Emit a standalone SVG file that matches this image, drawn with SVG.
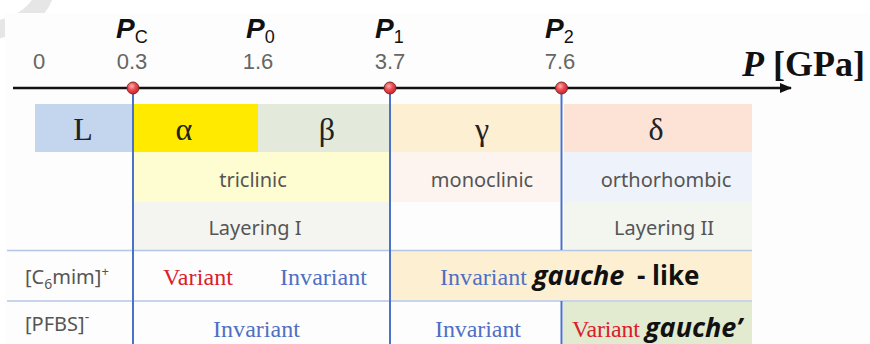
<svg xmlns="http://www.w3.org/2000/svg" width="870" height="344" viewBox="0 0 870 344">
<defs>
<radialGradient id="dot" cx="40%" cy="35%" r="65%">
<stop offset="0" stop-color="#ffb0b0"/>
<stop offset="0.5" stop-color="#ec4a4f"/>
<stop offset="1" stop-color="#c8262c"/>
</radialGradient>
<marker id="arr" viewBox="0 0 12 10" refX="11" refY="5" markerWidth="12" markerHeight="10" markerUnits="userSpaceOnUse" orient="auto">
<path d="M0,0 L12,5 L0,10 Z" fill="#111"/>
</marker>
<style>
.num{font-family:"Liberation Sans",Arial,sans-serif;font-size:22px;fill:#666;text-anchor:middle}
.pl{font-family:"Liberation Sans",Arial,sans-serif;font-size:28px;font-weight:bold;font-style:italic;fill:#111}
.sub{font-family:"Liberation Sans",Arial,sans-serif;font-size:18px;font-style:normal;font-weight:normal;fill:#111}
.gr{font-family:"Liberation Serif","Times New Roman",serif;font-size:32px;fill:#222;text-anchor:middle}
.sn{font-family:"Noto Sans","Liberation Sans",sans-serif;font-size:20px;fill:#555;text-anchor:middle}
.inv{font-family:"Liberation Serif","Times New Roman",serif;font-size:24px;fill:#4f6fc4}
.var{font-family:"Liberation Serif","Times New Roman",serif;font-size:24px;fill:#d9202a}
.gau{font-family:"Open Sans","Liberation Sans",sans-serif;font-size:27px;font-weight:bold;font-style:italic;fill:#111}
.up{font-family:"Open Sans","Liberation Sans",sans-serif;font-size:26px;font-weight:bold;fill:#111}
.lab{font-family:"Noto Sans","Liberation Sans",sans-serif;font-size:20px;fill:#555}
.vl{stroke:#4a72c8;stroke-width:2}
.hl{stroke:#b4c6e6;stroke-width:1.5}
</style>
</defs>
<rect x="0" y="0" width="870" height="344" fill="#ffffff"/>
<path d="M44,-4 Q34,22 -4,30" fill="none" stroke="#e6e6e6" stroke-width="18"/>
<rect x="5" y="13" width="865" height="331" fill="#fdfdfd"/>

<g id="cells">
<rect x="35" y="104" width="97" height="48" fill="#c4d5ee"/>
<rect x="134" y="104" width="124" height="48" fill="#ffea00"/>
<rect x="258" y="104" width="131" height="48" fill="#e4eadb"/>
<rect x="391" y="104" width="169" height="48" fill="#fdefd1"/>
<rect x="564" y="104" width="188" height="48" fill="#fde2d6"/>
<rect x="134" y="152" width="255" height="50" fill="#fefcd1"/>
<rect x="391" y="152" width="169" height="50" fill="#fdf4f0"/>
<rect x="564" y="152" width="188" height="50" fill="#eef2fa"/>
<rect x="134" y="202" width="255" height="48" fill="#f4f5f1"/>
<rect x="564" y="202" width="188" height="48" fill="#f3f6ef"/>
<rect x="391" y="251" width="361" height="49" fill="#fdefd2"/>
<rect x="563" y="302" width="189" height="42" fill="#e2eacf"/>
</g>

<g id="connectors">
<line class="hl" x1="7" y1="250.5" x2="752" y2="250.5"/>
<line class="hl" x1="7" y1="301" x2="752" y2="301"/>
<line class="vl" x1="133" y1="88" x2="133" y2="344"/>
<line class="vl" x1="390" y1="88" x2="390" y2="344"/>
<line class="vl" x1="561.5" y1="88" x2="561.5" y2="250"/>
<line class="vl" x1="561.5" y1="301" x2="561.5" y2="344"/>
<line x1="13" y1="88" x2="791" y2="88" stroke="#111" stroke-width="2.5" marker-end="url(#arr)"/>
</g>

<g id="axis-labels">
<text class="num" x="39" y="69">0</text>
<text class="num" x="132" y="69">0.3</text>
<text class="num" x="258" y="69">1.6</text>
<text class="num" x="390" y="69">3.7</text>
<text class="num" x="560" y="69">7.6</text>
<text class="pl" x="116" y="38">P<tspan class="sub" dy="5">C</tspan></text>
<text class="pl" x="246" y="38">P<tspan class="sub" dy="5">0</tspan></text>
<text class="pl" x="375" y="38">P<tspan class="sub" dy="5">1</tspan></text>
<text class="pl" x="545" y="38">P<tspan class="sub" dy="5">2</tspan></text>
<text x="742" y="76" font-family="Liberation Serif,'Times New Roman',serif" font-size="36" font-weight="bold" fill="#111"><tspan font-style="italic">P</tspan> [GPa]</text>
</g>

<g id="point-Pc"><circle cx="133" cy="88" r="6" fill="url(#dot)" stroke="#7a2a2a" stroke-width="1"/></g>
<g id="point-P1"><circle cx="390" cy="88" r="6" fill="url(#dot)" stroke="#7a2a2a" stroke-width="1"/></g>
<g id="point-P2"><circle cx="561.5" cy="88" r="6" fill="url(#dot)" stroke="#7a2a2a" stroke-width="1"/></g>

<g id="phase-L"><text class="gr" x="83" y="140" font-size="27">L</text></g>
<g id="phase-alpha"><text class="gr" x="184" y="140">α</text></g>
<g id="phase-beta"><text class="gr" x="327" y="140">β</text></g>
<g id="phase-gamma"><text class="gr" x="482" y="140">γ</text></g>
<g id="phase-delta"><text class="gr" x="656" y="140">δ</text></g>

<g id="triclinic"><text class="sn" x="253" y="187">triclinic</text></g>
<g id="monoclinic"><text class="sn" x="482" y="187">monoclinic</text></g>
<g id="orthorhombic"><text class="sn" x="666" y="187">orthorhombic</text></g>
<g id="layering-1"><text class="sn" x="255" y="235">Layering I</text></g>
<g id="layering-2"><text class="sn" x="664" y="235">Layering II</text></g>

<g id="row-cation">
<text class="lab" x="25" y="284">[C<tspan font-size="14" dy="5">6</tspan><tspan dy="-5">mim]</tspan><tspan font-size="13" dy="-8">+</tspan></text>
<text class="var" x="163" y="285" textLength="70">Variant</text>
<text class="inv" x="280" y="285" textLength="87">Invariant</text>
<text class="inv" x="440" y="285" textLength="87">Invariant</text>
<text class="gau" x="533" y="285">gauche</text>
<text class="up" x="637" y="285">- like</text>
</g>

<g id="row-anion">
<text class="lab" x="25" y="331">[PFBS]<tspan font-size="14" dy="-9">-</tspan></text>
<text class="inv" x="213" y="337" textLength="87">Invariant</text>
<text class="inv" x="435" y="337" textLength="86">Invariant</text>
<text class="var" x="572" y="337" textLength="68">Variant</text>
<text class="gau" x="645" y="337">gauche’</text>
</g>
</svg>
